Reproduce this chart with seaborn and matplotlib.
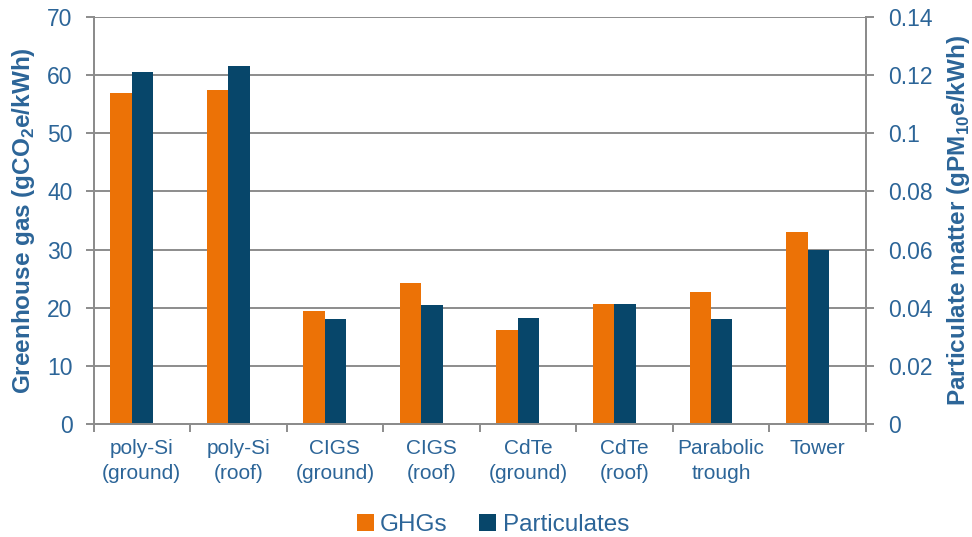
import numpy as np
import pandas as pd
import matplotlib
matplotlib.use("Agg")
import matplotlib.pyplot as plt
from matplotlib.patches import Patch
import seaborn as sns

categories = ["poly-Si\n(ground)", "poly-Si\n(roof)", "CIGS\n(ground)", "CIGS\n(roof)",
              "CdTe\n(ground)", "CdTe\n(roof)", "Parabolic\ntrough", "Tower"]
ghg = [57.0, 57.5, 19.5, 24.3, 16.1, 20.6, 22.7, 33.0]              # gCO2e/kWh
particulates = [0.121, 0.123, 0.036, 0.041, 0.0364, 0.0412, 0.036, 0.060]  # gPM10e/kWh
left_ticks = [0, 10, 20, 30, 40, 50, 60, 70]
right_ticks = [0, 0.02, 0.04, 0.06, 0.08, 0.1, 0.12, 0.14]
right_tick_labels = ["0", "0.02", "0.04", "0.06", "0.08", "0.1", "0.12", "0.14"]

ORANGE = "#EC7206"
NAVY = "#07466A"
TEXT = "#2C6598"
GRID = "#8C8C8C"

sns.set_theme(style="white")
plt.rcParams["font.family"] = ["Liberation Sans", "DejaVu Sans"]
plt.rcParams["mathtext.fontset"] = "custom"
plt.rcParams["mathtext.rm"] = "Liberation Sans:bold"
plt.rcParams["mathtext.bf"] = "Liberation Sans:bold"

fig = plt.figure(figsize=(9.72, 5.37), dpi=100)
ax = fig.add_axes([93.5 / 972, 1 - 424 / 537, (866 - 93.5) / 972, (424 - 17) / 537])
ax2 = ax.twinx()

idx = np.arange(len(categories))
bar_w = 0.222
df = pd.DataFrame({"pos_ghg": idx - bar_w + 0.006, "pos_pm": idx + 0.006,
                   "ghg": ghg, "pm": particulates})

sns.barplot(data=df, x="pos_ghg", y="ghg", native_scale=True, width=bar_w,
            color=ORANGE, saturation=1, errorbar=None, ax=ax, zorder=2)
sns.barplot(data=df, x="pos_pm", y="pm", native_scale=True, width=bar_w,
            color=NAVY, saturation=1, errorbar=None, ax=ax2, zorder=2)

for a in (ax, ax2):
    for p in a.patches:
        p.set_edgecolor("none")

ax.set_xlim(-0.5, len(categories) - 0.5)
ax2.set_xlim(-0.5, len(categories) - 0.5)
ax.set_ylim(0, 70)
ax2.set_ylim(0, 0.14)

# gridlines on the primary scale
ax.set_yticks(left_ticks)
ax.set_yticklabels([str(t) for t in left_ticks])
ax.grid(axis="y", color=GRID, linewidth=1.4)
ax.grid(axis="x", visible=False)
ax.set_axisbelow(True)

ax2.set_yticks(right_ticks)
ax2.set_yticklabels(right_tick_labels)
ax2.grid(False)

# category boundaries as ticks, labels centred between them
ax.set_xticks(np.arange(len(categories) + 1) - 0.5)
ax.set_xticklabels([""] * (len(categories) + 1))
ax.set_xticks(idx, minor=True)
ax.set_xticklabels(categories, minor=True, fontsize=15, color=TEXT, linespacing=1.4)
ax.tick_params(axis="x", which="major", length=6, width=1.4, color=GRID, direction="out", bottom=True)
ax.tick_params(axis="x", which="minor", length=0, pad=11, bottom=True)
ax.set_xlabel("")
ax2.set_xlabel("")

ax.tick_params(axis="y", length=6, width=1.4, color=GRID, direction="out", left=True,
               labelsize=16.5, labelcolor=TEXT, pad=9)
ax2.tick_params(axis="y", length=6, width=1.4, color=GRID, direction="out", right=True,
                labelsize=16.5, labelcolor=TEXT, pad=10)

for a in (ax, ax2):
    a.spines["top"].set_visible(False)
    for s in ("left", "right", "bottom"):
        a.spines[s].set_color(GRID)
        a.spines[s].set_linewidth(1.4)

ax.set_ylabel(r"Greenhouse gas (gCO$_\mathregular{2}$e/kWh)", fontsize=17.5,
              fontweight="bold", color=TEXT, labelpad=7)
ax2.set_ylabel(r"Particulate matter (gPM$_\mathregular{10}$e/kWh)", fontsize=17.5,
               fontweight="bold", color=TEXT, labelpad=9)

handles = [Patch(facecolor=ORANGE, edgecolor="none", label="GHGs"),
           Patch(facecolor=NAVY, edgecolor="none", label="Particulates")]
leg = fig.legend(handles=handles, loc="center", bbox_to_anchor=(493 / 972, 1 - 525 / 537),
                 ncol=2, frameon=False, fontsize=17.5, handlelength=0.7, handleheight=0.7,
                 handletextpad=0.25, columnspacing=1.3)
for t in leg.get_texts():
    t.set_color(TEXT)

fig.savefig("out.png", dpi=100)
